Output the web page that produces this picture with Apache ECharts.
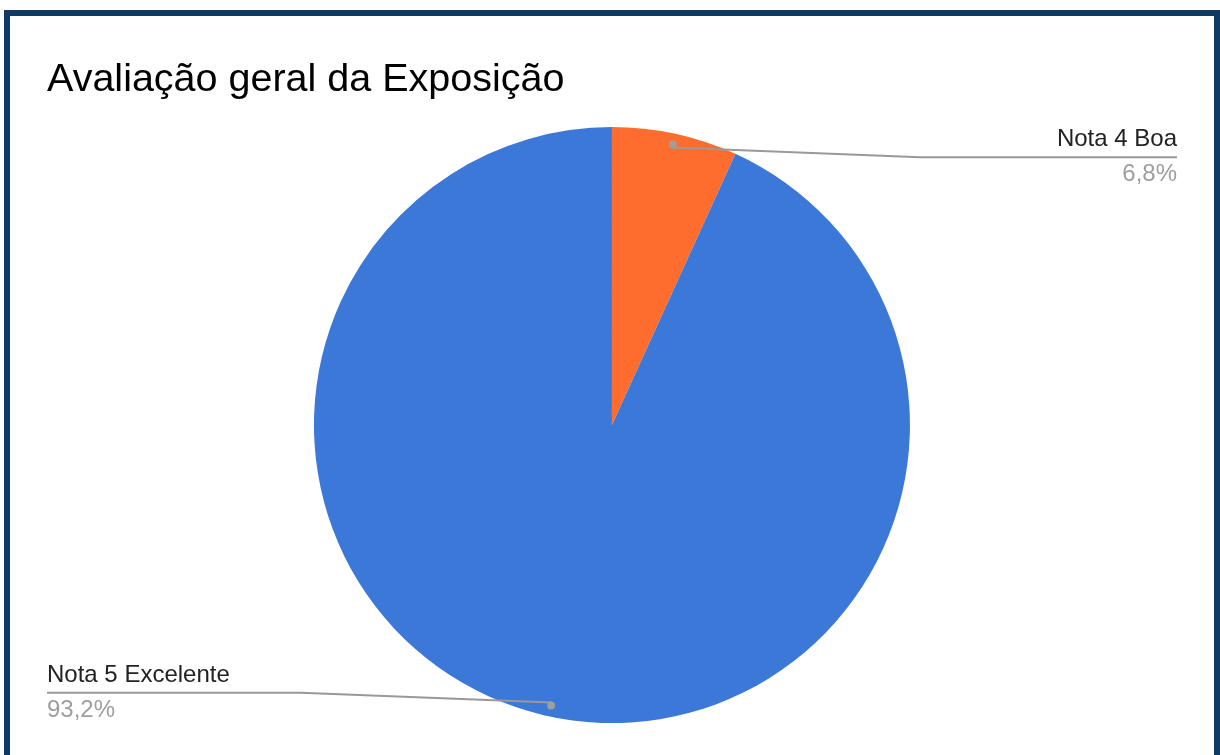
<!DOCTYPE html>
<html>
<head>
<meta charset="UTF-8">
<title>Avaliação geral da Exposição</title>
<script src="https://cdn.jsdelivr.net/npm/echarts@6/dist/echarts.min.js"></script>
<style>
	html, body { margin: 0; padding: 0; background: #fff; overflow: hidden; }
	#chart { position: absolute; left: 0; top: 0; width: 1220px; height: 755px; }
	.moldura {
		position: absolute; left: 4px; top: 10px; width: 1204px; height: 800px;
		border: 6px solid #0e3a66; border-bottom: none; pointer-events: none;
	}
</style>
</head>
<body>
<div id="chart"></div>
<div class="moldura"></div>
<script>
	// dados do gráfico
	var categorias = ['Nota 4 Boa', 'Nota 5 Excelente'];
	var valores = [6.8, 93.2];
	var cores = ['#ff6d2e', '#3c78d8'];

	var centro = ['50.16%', '56.3%'];
	var raio = 298;
	var raioPonto = 284;
	var fonte = 'Liberation Sans, Arial, sans-serif';

	var chart = echarts.init(document.getElementById('chart'));

	function fmtPct(p) {
		return p.toFixed(1).replace('.', ',') + '%';
	}

	var dadosPizza = categorias.map(function (nome, i) {
		return { name: nome, value: valores[i], itemStyle: { color: cores[i] } };
	});

	var dadosRotulo = categorias.map(function (nome, i) {
		return {
			name: nome,
			value: valores[i],
			label: { edgeDistance: i === 0 ? 43 : 47 }
		};
	});

	var dadosPonto = categorias.map(function (nome, i) {
		return { name: nome, value: valores[i] };
	});

	chart.setOption({
		animation: false,
		title: {
			text: 'Avaliação geral da Exposição',
			left: 42,
			top: 55,
			textStyle: {
				fontFamily: fonte,
				fontSize: 39.5,
				fontWeight: 'normal',
				color: '#000'
			}
		},
		series: [{
			name: 'Avaliação',
			type: 'pie',
			center: centro,
			radius: raio,
			startAngle: 90,
			clockwise: true,
			itemStyle: { borderWidth: 0 },
			label: { show: false },
			labelLine: { show: false },
			data: dadosPizza
		}, {
			// rótulos e linhas, por cima da pizza
			name: 'rotulos',
			type: 'pie',
			center: centro,
			radius: raio,
			startAngle: 90,
			clockwise: true,
			silent: true,
			z: 5,
			itemStyle: { color: 'rgba(0,0,0,0)', borderWidth: 0 },
			label: {
				show: true,
				position: 'outside',
				alignTo: 'edge',
				formatter: function (p) {
					return '{n|' + p.name + '}\n{p|' + fmtPct(p.percent) + '}';
				},
				rich: {
					n: { fontFamily: fonte, fontSize: 24, color: '#222', lineHeight: 35 },
					p: { fontFamily: fonte, fontSize: 24, color: '#9e9e9e', lineHeight: 35 }
				}
			},
			labelLine: {
				show: true,
				length: -24,
				length2: 0,
				lineStyle: { color: '#999', width: 2 }
			},
			labelLayout: function (params) {
				var w = chart.getWidth(), h = chart.getHeight();
				var cx = w * parseFloat(centro[0]) / 100;
				var cy = h * parseFloat(centro[1]) / 100;
				var pts = params.labelLinePoints;
				var rect = params.labelRect;
				var esquerda = rect.x < w / 2;
				var yLinha = rect.y + rect.height / 2;
				var xFim = esquerda ? rect.x : rect.x + rect.width;
				var xCotovelo = esquerda ? xFim + 254 : xFim - 257;
				var dx = pts[0][0] - cx, dy = pts[0][1] - cy;
				var d = Math.sqrt(dx * dx + dy * dy);
				var inicio = [cx + dx / d * raioPonto, cy + dy / d * raioPonto];
				return {
					labelLinePoints: [inicio, [xCotovelo, yLinha], [xFim, yLinha]]
				};
			},
			data: dadosRotulo
		}, {
			// pontos no início das linhas
			name: 'pontos',
			type: 'pie',
			center: centro,
			radius: [raioPonto - 6, raioPonto + 6],
			startAngle: 90,
			clockwise: true,
			silent: true,
			z: 6,
			itemStyle: { color: 'rgba(0,0,0,0)', borderWidth: 0 },
			label: {
				show: true,
				position: 'inside',
				formatter: '{d|}',
				rich: {
					d: { width: 8, height: 8, borderRadius: 4, backgroundColor: '#9e9e9e' }
				}
			},
			labelLine: { show: false },
			data: dadosPonto
		}]
	});
</script>
</body>
</html>
